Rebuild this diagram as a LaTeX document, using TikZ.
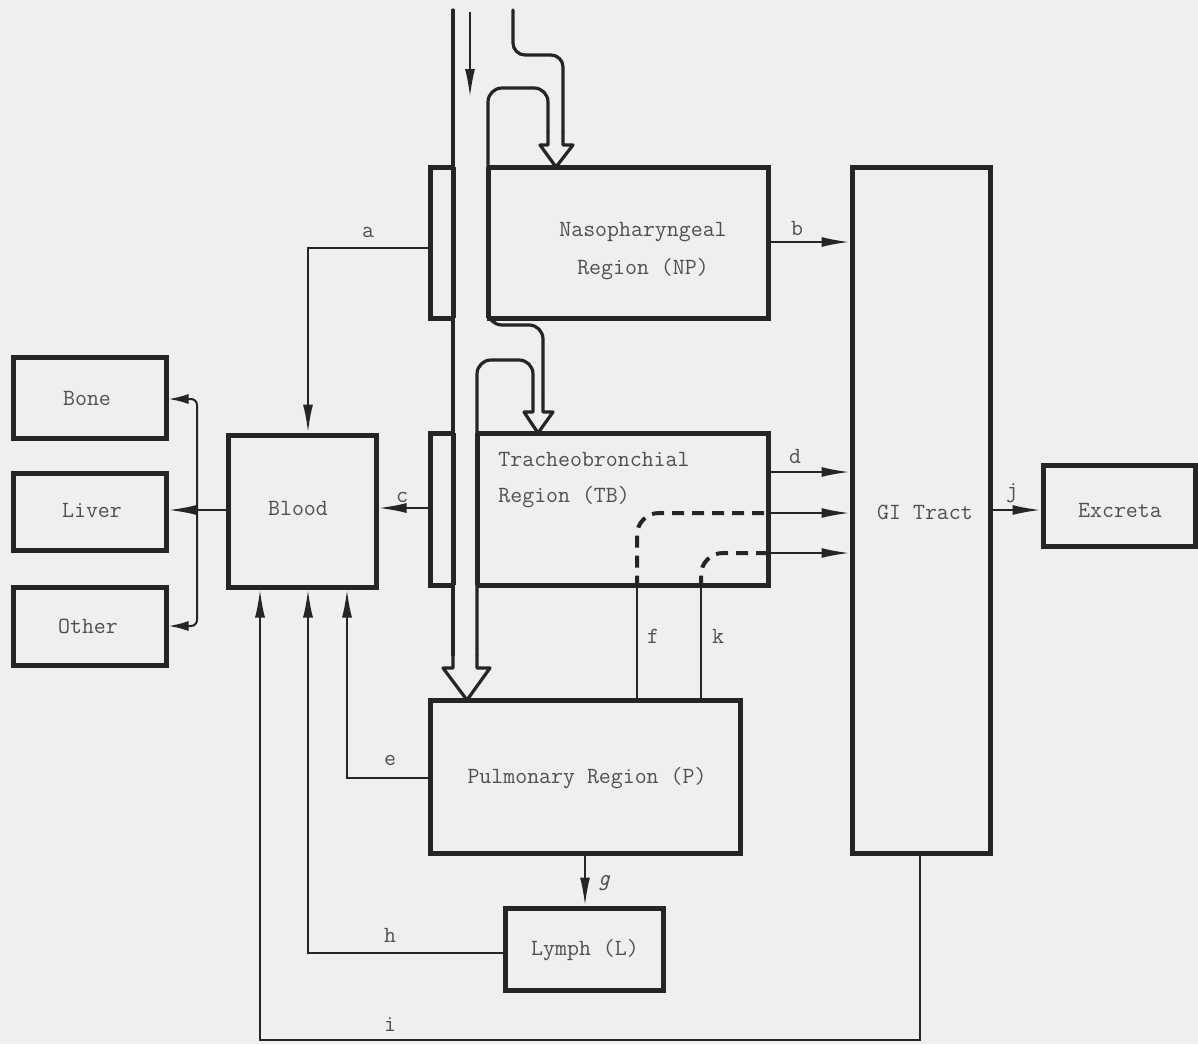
\documentclass[tikz,border=0pt]{standalone}
\usepackage{fontspec}
\usetikzlibrary{arrows.meta,fit}
\definecolor{bg}{HTML}{EFEFED}
\definecolor{ink}{HTML}{252525}
\definecolor{txt}{HTML}{505050}
\begin{document}
\begin{tikzpicture}[x=0.5pt,y=-0.5pt,
  box/.style={draw=ink,line width=2.5pt,inner sep=0pt,fill=bg},
  lbl/.style={text=txt,font=\ttfamily\fontsize{11.6pt}{19pt}\selectfont,inner sep=0pt},
  conn/.style={draw=ink,line width=1pt},
  arr/.style={conn,-{Latex[length=14pt,width=5pt]}},
  dblarr/.style={conn,{Latex[length=10pt,width=5pt]}-{Latex[length=10pt,width=5pt]}},
  airway/.style={draw=ink,line width=1.6pt,line cap=round,line join=round},
  wall/.style={draw=ink,line width=2.5pt},
  dashconn/.style={draw=ink,line width=2pt,dash pattern=on 6pt off 4pt,rounded corners=11pt}
]
\fill[bg] (0,0) rectangle (1198,1044);
\useasboundingbox (0,0) rectangle (1198,1044);

% boxes
\node[box,fit={(430,167) (768,318)}] (np) {};
\node[box,fit={(430,433) (768,585)}] (tb) {};
\node[box,fit={(430,700) (740,853)}] (p) {};
\node[box,fit={(852,167) (990,853)}] (gi) {};
\node[box,fit={(1043,465) (1195,546)}] (ex) {};
\node[box,fit={(13,357) (166,438)}] (bone) {};
\node[box,fit={(13,473) (166,550)}] (liver) {};
\node[box,fit={(13,587) (166,665)}] (other) {};
\node[box,fit={(228,435) (376,587)}] (blood) {};
\node[box,fit={(505,908) (663,990)}] (lymph) {};

% open the airway channel through NP and TB
\fill[bg] (454,158) rectangle (487,327);
\fill[bg] (454,424) rectangle (476,594);
\draw[wall] (453,167) -- (453,318);
\draw[wall] (488,167) -- (488,318);
\draw[wall] (453,433) -- (453,585);
\draw[wall] (477,433) -- (477,585);

% airway walls and hollow arrowheads
\draw[airway,rounded corners=6pt] (563,132) -- (563,55) -- (513,55) -- (513,10);
\draw[airway] (563,132) -- (563,145) -- (573,145) -- (556,167) -- (540,145) -- (548,145) -- (548,132);
\draw[airway,rounded corners=7pt] (548,132) -- (548,88) -- (488,88) -- (488,325) -- (543,325) -- (543,400);
\draw[airway] (543,400) -- (543,412) -- (553,412) -- (538,433) -- (524,412) -- (533,412) -- (533,400);
\draw[airway,rounded corners=7pt] (533,400) -- (533,360) -- (477,360) -- (477,655);
\draw[airway] (477,655) -- (477,668) -- (490,668) -- (467,700) -- (443,668) -- (453,668) -- (453,655);
\draw[airway] (453,655) -- (453,10);
\coordinate (flowtop) at (470,12);
\coordinate (flowend) at (470,97);
\draw[arr] (flowtop) -- (flowend);

% box texts
\node[lbl,align=center] (tnp) at (643,251) {Nasopharyngeal\\Region (NP)};
\node[lbl,align=left,anchor=west] (ttb) at (498,480) {Tracheobronchial\\[-1pt]Region (TB)};
\node[lbl] (tp) at (587,778) {Pulmonary Region (P)};
\node[lbl] (tgi) at (925,512) {GI Tract};
\node[lbl] (tex) at (1120,510) {Excreta};
\node[lbl] (tbone) at (87,398) {Bone};
\node[lbl] (tliver) at (92,510) {Liver};
\node[lbl] (tother) at (88,626) {Other};
\node[lbl] (tblood) at (298,508) {Blood};
\node[lbl] (tlymph) at (585,950) {Lymph (L)};

% connectors
\draw[arr] (np.west |- 0,248) -| (blood.north -| 308,0);
\draw[arr] (np.east |- 0,242) -- (gi.west |- 0,242);
\draw[arr] (tb.east |- 0,472) -- (gi.west |- 0,472);
\draw[arr] (tb.west |- 0,508) -- (blood.east |- 0,508);
\draw[arr] (blood.west |- 0,510) -- (liver.east |- 0,510);
\coordinate (split) at (197,512);
\draw[dblarr,rounded corners=3pt] (bone.east |- 0,399) -| (split) |- (other.east |- 0,626);
\draw[arr] (p.west |- 0,778) -| (blood.south -| 347,0);
\draw[arr] (lymph.west |- 0,953) -| (blood.south -| 308,0);
\draw[arr] (gi.south -| 920,0) -- (920,1040) -| (blood.south -| 260,0);
\draw[arr] (p.south -| 585,0) -- (lymph.north -| 585,0);
\draw[arr] (gi.east |- 0,510) -- (ex.west |- 0,510);

% f and k
\draw[conn] (p.north -| 637,0) -- (tb.south -| 637,0);
\draw[dashconn] (tb.south -| 637,0) -- (637,513) -- (tb.east |- 0,513);
\draw[arr] (tb.east |- 0,513) -- (gi.west |- 0,513);
\draw[conn] (p.north -| 701,0) -- (tb.south -| 701,0);
\draw[dashconn] (tb.south -| 701,0) -- (701,553) -- (tb.east |- 0,553);
\draw[arr] (tb.east |- 0,553) -- (gi.west |- 0,553);

% labels
\node[lbl] (la) at (368,232) {a};
\node[lbl] (lb) at (797,228) {b};
\node[lbl] (lc) at (402,497) {c};
\node[lbl] (ld) at (795,456) {d};
\node[lbl] (le) at (390,760) {e};
\node[lbl] (lf) at (653,636) {f};
\node[lbl] (lk) at (718,636) {k};
\node[lbl,font=\ttfamily\itshape\fontsize{11.6pt}{19pt}\selectfont] (lg) at (604,883) {g};
\node[lbl] (lh) at (390,935) {h};
\node[lbl] (li) at (390,1025) {i};
\node[lbl] (lj) at (1012,493) {j};
\end{tikzpicture}
\end{document}
